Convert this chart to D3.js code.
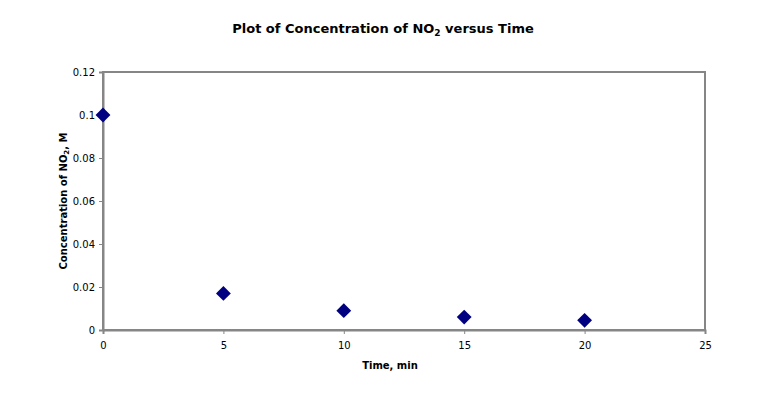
<!DOCTYPE html>
<html>
<head>
<meta charset="utf-8">
<script src="https://cdn.jsdelivr.net/npm/d3@7"></script>
<style>
  body { margin: 0; background: #fff; }
  text { font-family: "DejaVu Sans", Verdana, sans-serif; }
</style>
</head>
<body>
<div id="chart"></div>
<script>
// data
var times = [0, 5, 10, 15, 20];
var conc = [0.1, 0.017, 0.009, 0.006, 0.0045];
var x_ticks = [0, 5, 10, 15, 20, 25];
var y_ticks = [0, 0.02, 0.04, 0.06, 0.08, 0.1, 0.12];

var width = 775, height = 404;
var plot = {left: 103, top: 72, right: 705, bottom: 330};

var svg = d3.select("#chart")
    .append("svg")
    .attr("width", width)
    .attr("height", height);

var scale_x = d3.scaleLinear()
    .domain([0, 25])
    .range([plot.left, plot.right]);

var scale_y = d3.scaleLinear()
    .domain([0, 0.12])
    .range([plot.bottom, plot.top]);

// plot area frame
svg.append("rect")
    .attr("x", plot.left)
    .attr("y", plot.top)
    .attr("width", plot.right - plot.left)
    .attr("height", plot.bottom - plot.top)
    .attr("fill", "none")
    .attr("stroke", "#868686")
    .attr("stroke-width", 2);

// axes
var xaxis = svg.append("g")
    .attr("transform", "translate(0," + plot.bottom + ")")
    .call(d3.axisBottom(scale_x).tickValues(x_ticks).tickSize(4).tickPadding(8)
	  .tickFormat(d3.format("d")));

var yaxis = svg.append("g")
    .attr("transform", "translate(" + plot.left + ",0)")
    .call(d3.axisLeft(scale_y).tickValues(y_ticks).tickSize(4).tickPadding(4)
	  .tickFormat(function(d) { return d === 0 ? "0" : String(+d.toFixed(2)); }));

[xaxis, yaxis].forEach(function(a) {
    a.select(".domain").attr("stroke", "#868686").attr("stroke-width", 2);
    a.selectAll(".tick line").attr("stroke", "#868686");
    a.selectAll(".tick text")
	.attr("fill", "#000")
	.style("font-family", "'DejaVu Sans', Verdana, sans-serif")
	.style("font-size", "10px");
});

// title
var title = svg.append("text")
    .attr("x", 383)
    .attr("y", 33)
    .attr("text-anchor", "middle")
    .style("font-size", "13px")
    .style("font-weight", "bold");
title.append("tspan").text("Plot of Concentration of NO");
title.append("tspan").attr("dy", 3).style("font-size", "9px").text("2");
title.append("tspan").attr("dy", -3).text(" versus Time");

// axis labels
svg.append("text")
    .attr("x", 390)
    .attr("y", 369)
    .attr("text-anchor", "middle")
    .style("font-size", "10px")
    .style("font-weight", "bold")
    .text("Time, min");

var ylab = svg.append("text")
    .attr("transform", "translate(67,201) rotate(-90)")
    .attr("text-anchor", "middle")
    .style("font-size", "10px")
    .style("font-weight", "bold");
ylab.append("tspan").text("Concentration of NO");
ylab.append("tspan").attr("dy", 2).style("font-size", "7px").text("2");
ylab.append("tspan").attr("dy", -2).text(", M");

// observations
svg.append("g")
    .selectAll("path")
    .data(times)
    .enter()
    .append("path")
    .attr("d", d3.symbol().type(d3.symbolSquare).size(110))
    .attr("transform", function(d, i) {
	return "translate(" + scale_x(d) + "," + scale_y(conc[i]) + ") rotate(45)";
    })
    .attr("fill", "#000080");
</script>
</body>
</html>
